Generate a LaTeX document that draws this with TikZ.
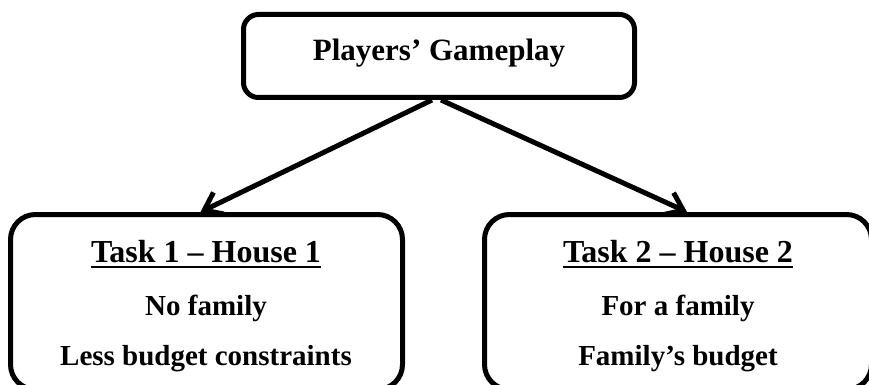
\documentclass[tikz,border=0pt]{standalone}
\usepackage{fontspec}
\setmainfont{Liberation Serif}
\usetikzlibrary{arrows.meta}
\begin{document}
\begin{tikzpicture}[x=1pt,y=-1pt,
  boxstyle/.style={draw=black,line width=5pt,rounded corners=#1,inner sep=0pt,fill=none},
  txt/.style={inner sep=0pt,anchor=base,font=\bfseries\fontsize{29}{34}\selectfont},
  headtxt/.style={inner sep=0pt,anchor=base,font=\bfseries\fontsize{32}{38}\selectfont},
  titletxt/.style={inner sep=0pt,anchor=base,font=\bfseries\fontsize{31}{37}\selectfont},
  conn/.style={line width=5pt,-{Straight Barb[length=16pt,width=24pt]}},
  uline/.style={line width=2.6pt}]
\useasboundingbox (0,0) rectangle (869,385);
\begin{scope}
\clip (0,0) rectangle (869,385);
\node[boxstyle=15pt,minimum width=391pt,minimum height=83pt] (top) at (439,56) {};
\node[boxstyle=25pt,minimum width=392pt,minimum height=175pt] (L) at (206.5,302) {};
\node[boxstyle=25pt,minimum width=387pt,minimum height=175pt] (R) at (678,302) {};
\end{scope}
\node[titletxt] (ttl) at (439,61) {Players’ Gameplay};
\node[headtxt] (h1) at (206,262) {Task 1 – House 1};
\node[txt] (a1) at (206,315) {No family};
\node[txt] (b1) at (206,365) {Less budget constraints};
\node[headtxt] (h2) at (678,262) {Task 2 – House 2};
\node[txt] (a2) at (678,315) {For a family};
\node[txt] (b2) at (678,365) {Family’s budget};
\draw[uline] ([yshift=-5pt]h1.base west) -- ([yshift=-5pt]h1.base east);
\draw[uline] ([yshift=-5pt]h2.base west) -- ([yshift=-5pt]h2.base east);
\draw[conn] ([xshift=-7pt]top.south) -- ([xshift=-6pt]L.north);
\draw[conn] ([xshift=2pt]top.south) -- ([xshift=9pt]R.north);
\end{tikzpicture}
\end{document}
